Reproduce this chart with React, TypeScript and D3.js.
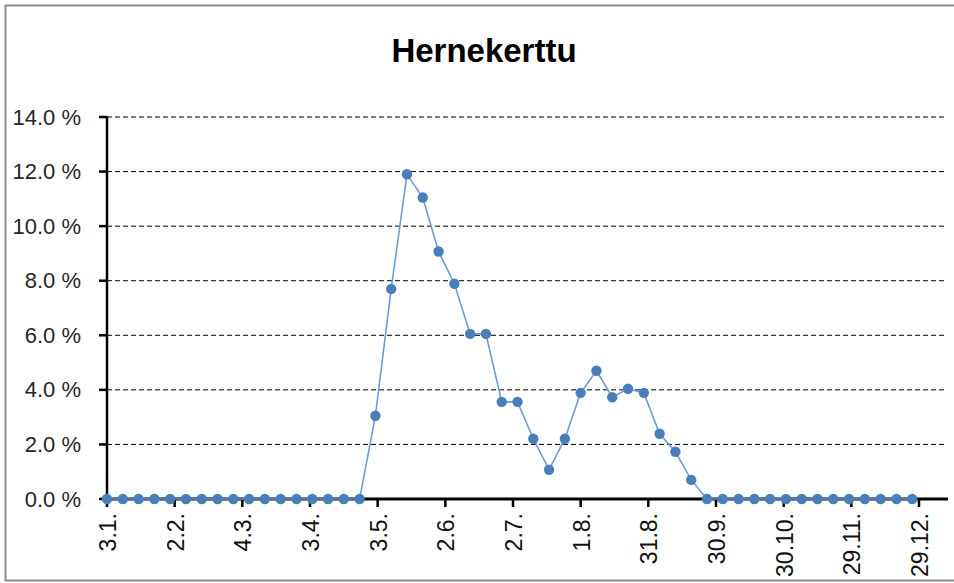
import * as d3 from "d3";

const W = 954;
const H = 583;

const TITLE = "Hernekerttu";

// weekly observation dates (day.month.)
const weekDates = [
  "3.1.", "10.1.", "17.1.", "24.1.", "31.1.",
  "7.2.", "14.2.", "21.2.", "28.2.",
  "7.3.", "14.3.", "21.3.", "28.3.",
  "4.4.", "11.4.", "18.4.", "25.4.",
  "2.5.", "9.5.", "16.5.", "23.5.", "30.5.",
  "6.6.", "13.6.", "20.6.", "27.6.",
  "4.7.", "11.7.", "18.7.", "25.7.",
  "1.8.", "8.8.", "15.8.", "22.8.", "29.8.",
  "5.9.", "12.9.", "19.9.", "26.9.",
  "3.10.", "10.10.", "17.10.", "24.10.", "31.10.",
  "7.11.", "14.11.", "21.11.", "28.11.",
  "5.12.", "12.12.", "19.12.", "26.12.",
];

// share of catch, percent
const shares = [
  0, 0, 0, 0, 0, 0, 0, 0, 0, 0, 0, 0, 0, 0, 0, 0, 0,
  3.05, 7.7, 11.9, 11.05, 9.07, 7.89, 6.05, 6.05, 3.56, 3.56,
  2.21, 1.07, 2.21, 3.89, 4.7, 3.73, 4.04, 3.89, 2.39, 1.73, 0.7,
  0, 0, 0, 0, 0, 0, 0, 0, 0, 0, 0, 0, 0, 0,
];

const xTickDates = [
  "3.1.", "2.2.", "4.3.", "3.4.", "3.5.", "2.6.", "2.7.",
  "1.8.", "31.8.", "30.9.", "30.10.", "29.11.", "29.12.",
];

const yTicks = [0, 2, 4, 6, 8, 10, 12, 14];

const YEAR = 2021;
const parseDM = (s: string) => {
  const [d, m] = s.split(".").map(Number);
  return new Date(Date.UTC(YEAR, m - 1, d));
};

const FONT = "'Liberation Sans', Arial, sans-serif";

export default function App() {
  const plot = { left: 107, right: 919, top: 117, bottom: 499, gridEnd: 947 };

  const x = d3
    .scaleUtc()
    .domain([parseDM(xTickDates[0]), parseDM(xTickDates[xTickDates.length - 1])])
    .range([plot.left, plot.right]);

  const y = d3.scaleLinear().domain([0, 14]).range([plot.bottom, plot.top]);

  const data = weekDates.map((d, i) => ({ date: parseDM(d), value: shares[i] }));

  const line = d3
    .line<{ date: Date; value: number }>()
    .x((d) => x(d.date))
    .y((d) => y(d.value));

  return (
    <svg
      width={W}
      height={H}
      style={{ position: "fixed", left: 0, top: 0, background: "#fff" }}
      fontFamily={FONT}
    >
      <rect x={0} y={0} width={W} height={H} fill="#fff" />
      {/* chart frame */}
      <rect x={5.5} y={5.5} width={W + 10} height={575} fill="none" stroke="#8c8c8c" strokeWidth={2} />

      <text x={484} y={62} textAnchor="middle" fontSize={33} fontWeight="bold" fill="#000">
        {TITLE}
      </text>

      {/* gridlines */}
      {yTicks.filter((t) => t > 0).map((t) => (
        <line
          key={"g" + t}
          x1={plot.left}
          x2={plot.gridEnd}
          y1={y(t)}
          y2={y(t)}
          stroke="#000"
          strokeWidth={1}
          strokeDasharray="5,3"
        />
      ))}

      {/* y axis */}
      <line x1={plot.left} x2={plot.left} y1={plot.top - 1} y2={plot.bottom} stroke="#000" strokeWidth={2.5} />
      {yTicks.map((t) => (
        <g key={"y" + t}>
          <line x1={99} x2={plot.left} y1={y(t)} y2={y(t)} stroke="#000" strokeWidth={2.5} />
          <text x={81} y={y(t)} textAnchor="end" dominantBaseline="central" fontSize={22} fill="#262626">
            {t.toFixed(1) + " %"}
          </text>
        </g>
      ))}

      {/* x axis */}
      <line x1={plot.left} x2={948} y1={plot.bottom} y2={plot.bottom} stroke="#000" strokeWidth={3} />
      {xTickDates.map((s) => {
        const xp = x(parseDM(s));
        return (
          <g key={"x" + s}>
            <line x1={xp} x2={xp} y1={plot.bottom} y2={plot.bottom + 8} stroke="#000" strokeWidth={2.5} />
            <text
              transform={`translate(${xp + 1},${plot.bottom + 14}) rotate(-90)`}
              textAnchor="end"
              dominantBaseline="central"
              fontSize={23}
              fill="#111"
            >
              {s}
            </text>
          </g>
        );
      })}

      {/* series */}
      <path d={line(data) ?? ""} fill="none" stroke="#6f9bd3" strokeWidth={1.6} />
      {data.map((d, i) => (
        <circle key={i} cx={x(d.date)} cy={y(d.value)} r={5.2} fill="#4a7ebb" />
      ))}
    </svg>
  );
}
